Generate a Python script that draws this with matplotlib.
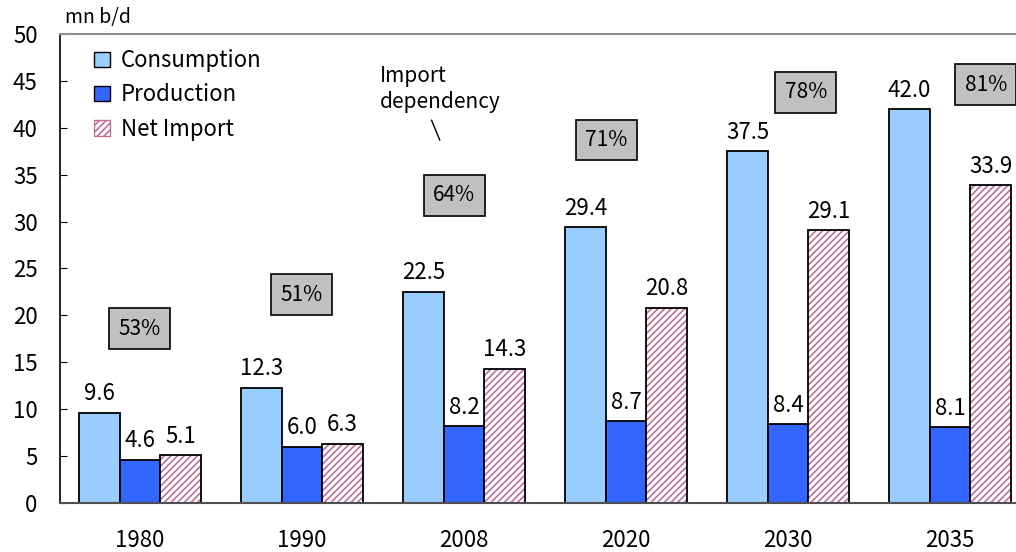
import numpy as np
import matplotlib.pyplot as plt
from matplotlib.patches import Patch

plt.rcParams['font.family'] = ['Noto Sans CJK JP', 'DejaVu Sans']

years = ['1980', '1990', '2008', '2020', '2030', '2035']
consumption = [9.6, 12.3, 22.5, 29.4, 37.5, 42.0]
production = [4.6, 6.0, 8.2, 8.7, 8.4, 8.1]
net_import = [5.1, 6.3, 14.3, 20.8, 29.1, 33.9]
dependency = ['53%', '51%', '64%', '71%', '78%', '81%']
# where each dependency box sits (x offset from group centre, y in data units)
dep_dx = [0.0, 0.0, -0.06, -0.12, 0.11, 0.22]
dep_y = [18.6, 22.2, 32.8, 38.7, 43.8, 44.6]

c_cons = '#99ccff'
c_prod = '#3366ff'
c_hatch = '#c06e96'

fig = plt.figure(figsize=(10.16, 5.52), dpi=100)
ax = fig.add_axes([0.059, 0.0888, 0.941, 0.8496])

x = np.arange(len(years))
w = 0.25

ax.bar(x - w, consumption, w, color=c_cons, edgecolor='black', linewidth=1.3)
ax.bar(x, production, w, color=c_prod, edgecolor='black', linewidth=1.3)
# hatch in pink, then outline in black on top
plt.rcParams['hatch.linewidth'] = 1.2
ax.bar(x + w, net_import, w, color='white', edgecolor=c_hatch, hatch='/////',
       linewidth=0)
ax.bar(x + w, net_import, w, color='none', edgecolor='black', linewidth=1.3)

handles = [Patch(facecolor=c_cons, edgecolor='black', label='Consumption'),
           Patch(facecolor=c_prod, edgecolor='black', label='Production'),
           Patch(facecolor='white', edgecolor=c_hatch, hatch='/////',
                 label='Net Import')]
ax.legend(handles=handles, loc='upper left', bbox_to_anchor=(0.015, 1.01),
          frameon=False, fontsize=16, handlelength=0.7, handleheight=0.7,
          handletextpad=0.5, labelspacing=0.5)

for xs, vals in [(x - w, consumption), (x, production), (x + w, net_import)]:
    for xi, v in zip(xs, vals):
        ax.text(xi, v + 0.8, f'{v:.1f}', ha='center', va='bottom', fontsize=16)

for xi, t, dx, dy in zip(x, dependency, dep_dx, dep_y):
    ax.text(xi + dx, dy, t, ha='center', va='center', fontsize=15,
            bbox=dict(boxstyle='square,pad=0.45', facecolor='#c0c0c0',
                      edgecolor='black', linewidth=1.2))

ax.text(1.48, 41.6, 'Import\ndependency', ha='left', va='bottom', fontsize=15,
        linespacing=1.2)
ax.plot([1.80, 1.85], [40.8, 38.7], color='black', linewidth=1)

ax.text(0.005, 1.012, 'mn b/d', transform=ax.transAxes, ha='left',
        va='bottom', fontsize=14)

ax.set_ylim(0, 50)
ax.set_xlim(-0.494, 5.407)
ax.set_yticks(range(0, 51, 5))
ax.set_xticks(x)
ax.set_xticklabels(years)
ax.tick_params(axis='y', direction='in', length=5, labelsize=16, pad=16)
ax.tick_params(axis='x', length=0, labelsize=16, pad=19)
ax.spines['right'].set_visible(False)
ax.spines['top'].set_color('#909090')
ax.spines['top'].set_linewidth(1.5)
ax.spines['bottom'].set_color('#505050')
ax.spines['bottom'].set_linewidth(1.5)
ax.spines['left'].set_linewidth(1.2)

fig.savefig('out.png', dpi=100)
